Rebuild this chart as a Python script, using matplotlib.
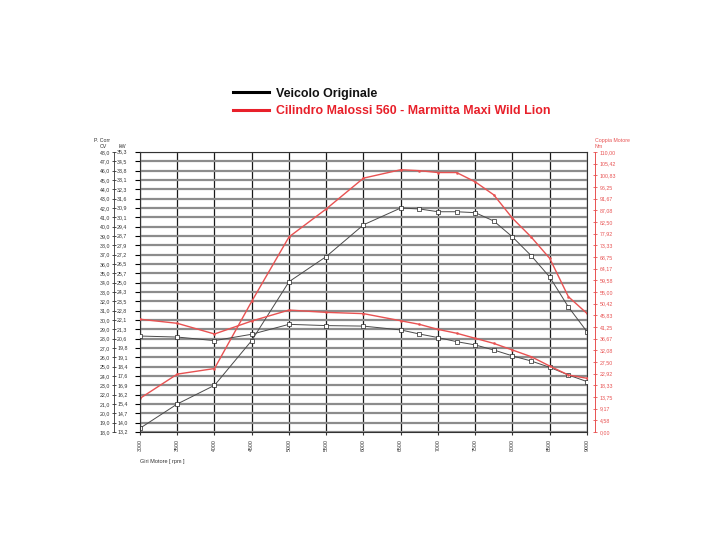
import numpy as np
import matplotlib.pyplot as plt
from matplotlib.lines import Line2D

plt.rcParams['font.family'] = ['Liberation Sans', 'DejaVu Sans']

rpm = [3000, 3500, 4000, 4500, 5000, 5500, 6000, 6500, 6750, 7000,
       7250, 7500, 7750, 8000, 8250, 8500, 8750, 9000]

# power (CV)
cv_orig = [18.4, 21.0, 23.0, 27.8, 34.1, 36.8, 40.2, 42.0, 41.9, 41.6,
           41.6, 41.5, 40.6, 38.9, 36.9, 34.6, 31.4, 28.75]
cv_malossi = [21.6, 24.2, 24.8, 32.0, 38.9, 41.9, 45.2, 46.1, 46.0, 45.8,
              45.8, 44.8, 43.4, 40.9, 38.9, 36.6, 32.5, 30.7]

# torque (Nm)
nm_orig = [37.7, 37.3, 35.9, 38.4, 42.3, 41.8, 41.6, 40.1, 38.5, 37.1,
           35.5, 34.2, 32.2, 29.9, 27.9, 25.4, 22.4, 19.8]
nm_malossi = [44.3, 42.7, 38.5, 43.6, 47.9, 47.0, 46.5, 43.7, 42.3, 40.3,
              38.8, 36.8, 34.8, 32.2, 29.6, 25.9, 22.4, 21.1]

rpm_ticks = list(range(3000, 9001, 500))
cv_ticks = list(range(18, 49))
nm_ticks = [110 * i / 24 for i in range(25)]

RED = '#e85252'

fig = plt.figure(figsize=(7.28, 5.46), dpi=100)
ax = fig.add_axes([0.1923, 0.2088, 0.6140, 0.5128])

ax.set_xlim(3000, 9000)
ax.set_ylim(18, 48)
ax.set_yticks(cv_ticks)
ax.set_xticks(rpm_ticks)
ax.grid(axis='y', color='#8c8c8c', lw=1.6)
ax.grid(axis='x', color='#1a1a1a', lw=0.9)
ax.set_axisbelow(True)
for s in ax.spines.values():
    s.set_color('#333333')
    s.set_linewidth(0.8)
ax.tick_params(axis='y', left=False, labelleft=False)
ax.tick_params(axis='x', length=2, labelsize=3.8, labelrotation=90, pad=3, colors='#333333')
ax.set_xticklabels([str(v) for v in rpm_ticks])
ax.set_xlabel('Giri Motore [ rpm ]', fontsize=4, color='#333333', loc='left', labelpad=6)

# CV / kW axis on the left
sec = ax.secondary_yaxis(-0.058)
sec.set_yticks(cv_ticks)
sec.set_yticklabels([f'{v:.1f}'.replace('.', ',') for v in cv_ticks])
sec.tick_params(axis='y', direction='inout', length=3, width=0.6, labelsize=3.8,
                pad=1.5, colors='#333333')
sec.spines['left'].set_linewidth(0.6)
sec.spines['left'].set_color('#333333')
trans = ax.get_yaxis_transform()
for v in cv_ticks:
    ax.text(-0.051, v, f'{v * 0.735:.1f}'.replace('.', ','), transform=trans,
            fontsize=3.8, color='#333333', ha='left', va='center')
ax.text(-0.085, 1.035, 'P. Corr', transform=ax.transAxes, fontsize=3.8,
        color='#333333', ha='center')
ax.text(-0.082, 1.016, 'CV', transform=ax.transAxes, fontsize=3.8,
        color='#333333', ha='center')
ax.text(-0.04, 1.016, 'kW', transform=ax.transAxes, fontsize=3.8,
        color='#333333', ha='center')

# torque axis on the right
ax2 = ax.twinx()
ax2.set_ylim(0, 110)
ax2.set_yticks(nm_ticks)
ax2.set_yticklabels([f'{v:.2f}'.replace('.', ',') for v in nm_ticks])
ax2.spines['right'].set_position(('outward', 6))
ax2.spines['right'].set_color(RED)
ax2.spines['right'].set_linewidth(0.7)
for k in ['left', 'top', 'bottom']:
    ax2.spines[k].set_visible(False)
ax2.tick_params(axis='y', colors=RED, direction='inout', length=3, width=0.6,
                labelsize=3.8, pad=1.5)
ax2.text(1.018, 1.035, 'Coppia Motore', transform=ax.transAxes, fontsize=3.8,
         color=RED, ha='left')
ax2.text(1.018, 1.016, 'Nm', transform=ax.transAxes, fontsize=3.8,
         color=RED, ha='left')

# curves
blk = dict(color='#4a4a4a', lw=0.7, marker='s', ms=2.3, mfc='white',
           mec='#222222', mew=0.5)
red = dict(color=RED, lw=1.0, marker='o', ms=1.5, mfc=RED, mec=RED, mew=0.3)
ax.plot(rpm, cv_orig, **blk)
ax.plot(rpm, cv_malossi, **red)
ax2.plot(rpm, nm_orig, **blk)
ax2.plot(rpm, nm_malossi, **red)

# legend at the top
handles = [Line2D([], [], color='black', lw=2.2),
           Line2D([], [], color='#e8202a', lw=2.2)]
labels = ['Veicolo Originale', 'Cilindro Malossi 560 - Marmitta Maxi Wild Lion']
leg = fig.legend(handles, labels, loc='upper left', bbox_to_anchor=(0.305, 0.860),
                 frameon=False, handlelength=2.9, handletextpad=0.55,
                 labelspacing=0.45, prop={'weight': 'bold', 'size': 8.9})
leg.get_texts()[0].set_color('#111111')
leg.get_texts()[1].set_color('#e8202a')

fig.savefig('out.png', dpi=100)
